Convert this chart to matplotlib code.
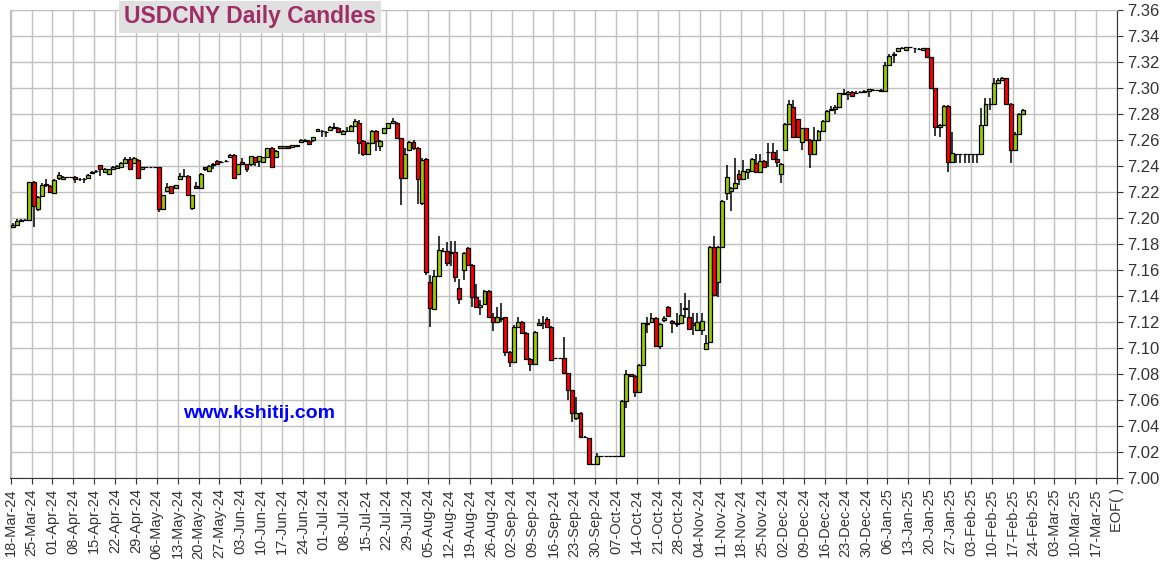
import matplotlib.pyplot as plt
import pandas as pd

plt.rcParams['font.family'] = ['Liberation Sans', 'DejaVu Sans']

# one entry per weekday from 18-Mar-24 (holidays show as flat prints)
opens = [
    7.1930, 7.1945, 7.1978, 7.1982, 7.1985, 7.2275, 7.2069, 7.2170, 7.2255, 7.2248,
    7.2195, 7.2305, 7.2298, 7.2312, 7.2312, 7.2318, 7.2298, 7.2300, 7.2305, 7.2350,
    7.2358, 7.2405, 7.2352, 7.2336, 7.2379, 7.2385, 7.2395, 7.2426, 7.2454, 7.2421,
    7.2446, 7.2374, 7.2390, 7.2390, 7.2390, 7.2390, 7.2067, 7.2210, 7.2246, 7.2233,
    7.2297, 7.2322, 7.2323, 7.2079, 7.2246, 7.2228, 7.2390, 7.2364, 7.2405, 7.2439,
    7.2428, 7.2435, 7.2467, 7.2485, 7.2341, 7.2431, 7.2413, 7.2413, 7.2467, 7.2441,
    7.2434, 7.2467, 7.2536, 7.2467, 7.2536, 7.2536, 7.2551, 7.2544, 7.2555, 7.2582,
    7.2596, 7.2595, 7.2598, 7.2670, 7.2672, 7.2665, 7.2674, 7.2703, 7.2692, 7.2644,
    7.2670, 7.2672, 7.2711, 7.2734, 7.2595, 7.2493, 7.2580, 7.2672, 7.2557, 7.2652,
    7.2690, 7.2729, 7.2734, 7.2613, 7.2305, 7.2524, 7.2588, 7.2540, 7.2112, 7.2450,
    7.1505, 7.1297, 7.1556, 7.1746, 7.1746, 7.1733, 7.1735, 7.1459, 7.1600, 7.1766,
    7.1638, 7.1389, 7.1312, 7.1335, 7.1438, 7.1235, 7.1202, 7.1230, 7.1235, 7.0972,
    7.0895, 7.1164, 7.1202, 7.1113, 7.0913, 7.0877, 7.1174, 7.1193, 7.1220, 7.1164,
    7.0925, 7.0925, 7.0925, 7.0805, 7.0677, 7.0459, 7.0503, 7.0318, 7.0305, 7.0105,
    7.0105, 7.0172, 7.0172, 7.0172, 7.0172, 7.0172, 7.0172, 7.0592, 7.0797, 7.0785,
    7.0659, 7.0869, 7.1188, 7.1203, 7.1228, 7.1015, 7.1215, 7.1313, 7.1210, 7.1188,
    7.1190, 7.1303, 7.1241, 7.1190, 7.1138, 7.1138, 7.0990, 7.1049, 7.1779, 7.1510,
    7.1779, 7.2190, 7.2210, 7.2233, 7.2338, 7.2297, 7.2356, 7.2364, 7.2421, 7.2356,
    7.2441, 7.2508, 7.2510, 7.2451, 7.2336, 7.2523, 7.2720, 7.2856, 7.2759, 7.2587,
    7.2689, 7.2600, 7.2489, 7.2600, 7.2671, 7.2746, 7.2830, 7.2838, 7.2851, 7.2957,
    7.2953, 7.2971, 7.2962, 7.2967, 7.2969, 7.2974, 7.2984, 7.2985, 7.2982, 7.2979,
    7.3180, 7.3257, 7.3284, 7.3308, 7.3292, 7.3312, 7.3306, 7.3303, 7.3292, 7.3305,
    7.3236, 7.2997, 7.2702, 7.2715, 7.2864, 7.2428, 7.2492, 7.2492, 7.2492, 7.2492,
    7.2492, 7.2492, 7.2492, 7.2715, 7.2875, 7.2877, 7.3036, 7.3061, 7.3075, 7.2880,
    7.2525, 7.2650, 7.2800,
]
highs = [
    7.1965, 7.1990, 7.1990, 7.1990, 7.2280, 7.2285, 7.2170, 7.2268, 7.2298, 7.2252,
    7.2300, 7.2356, 7.2320, 7.2312, 7.2312, 7.2322, 7.2305, 7.2310, 7.2335, 7.2360,
    7.2370, 7.2408, 7.2385, 7.2380, 7.2400, 7.2405, 7.2430, 7.2467, 7.2467, 7.2470,
    7.2455, 7.2395, 7.2390, 7.2390, 7.2390, 7.2392, 7.2180, 7.2272, 7.2250, 7.2255,
    7.2349, 7.2374, 7.2330, 7.2180, 7.2279, 7.2345, 7.2395, 7.2405, 7.2420, 7.2445,
    7.2435, 7.2445, 7.2490, 7.2490, 7.2418, 7.2459, 7.2418, 7.2480, 7.2470, 7.2480,
    7.2470, 7.2540, 7.2545, 7.2520, 7.2555, 7.2555, 7.2555, 7.2562, 7.2565, 7.2605,
    7.2610, 7.2600, 7.2625, 7.2686, 7.2678, 7.2670, 7.2708, 7.2728, 7.2697, 7.2676,
    7.2700, 7.2715, 7.2760, 7.2754, 7.2600, 7.2585, 7.2677, 7.2680, 7.2598, 7.2695,
    7.2734, 7.2767, 7.2740, 7.2618, 7.2536, 7.2595, 7.2600, 7.2550, 7.2460, 7.2460,
    7.1561, 7.1600, 7.1861, 7.1770, 7.1818, 7.1823, 7.1823, 7.1528, 7.1735, 7.1779,
    7.1645, 7.1492, 7.1369, 7.1445, 7.1445, 7.1271, 7.1318, 7.1343, 7.1240, 7.0980,
    7.1180, 7.1240, 7.1210, 7.1120, 7.0920, 7.1130, 7.1220, 7.1246, 7.1240, 7.1170,
    7.0925, 7.0925, 7.1087, 7.0810, 7.0680, 7.0625, 7.0510, 7.0322, 7.0310, 7.0110,
    7.0190, 7.0172, 7.0172, 7.0172, 7.0172, 7.0172, 7.0600, 7.0831, 7.0800, 7.0790,
    7.0875, 7.1195, 7.1241, 7.1267, 7.1235, 7.1190, 7.1246, 7.1320, 7.1215, 7.1267,
    7.1344, 7.1421, 7.1369, 7.1267, 7.1267, 7.1267, 7.1100, 7.1785, 7.1862, 7.1785,
    7.2135, 7.2408, 7.2240, 7.2459, 7.2369, 7.2446, 7.2380, 7.2459, 7.2490, 7.2492,
    7.2445, 7.2580, 7.2580, 7.2523, 7.2420, 7.2730, 7.2910, 7.2907, 7.2765, 7.2695,
    7.2695, 7.2605, 7.2702, 7.2677, 7.2752, 7.2830, 7.2861, 7.2869, 7.2965, 7.2990,
    7.2980, 7.2980, 7.2975, 7.2980, 7.2985, 7.2995, 7.2990, 7.2985, 7.2990, 7.3200,
    7.3260, 7.3279, 7.3310, 7.3315, 7.3318, 7.3318, 7.3310, 7.3308, 7.3310, 7.3310,
    7.3240, 7.3000, 7.2720, 7.2870, 7.2870, 7.2664, 7.2495, 7.2495, 7.2495, 7.2495,
    7.2495, 7.2495, 7.2843, 7.2920, 7.2920, 7.3074, 7.3079, 7.3085, 7.3080, 7.2885,
    7.2660, 7.2805, 7.2840,
]
lows = [
    7.1920, 7.1940, 7.1970, 7.1975, 7.1980, 7.1933, 7.2056, 7.2165, 7.2241, 7.2190,
    7.2190, 7.2295, 7.2290, 7.2312, 7.2312, 7.2272, 7.2285, 7.2270, 7.2300, 7.2345,
    7.2350, 7.2325, 7.2345, 7.2330, 7.2375, 7.2380, 7.2390, 7.2420, 7.2375, 7.2415,
    7.2305, 7.2370, 7.2390, 7.2390, 7.2390, 7.2049, 7.2060, 7.2205, 7.2185, 7.2230,
    7.2295, 7.2315, 7.2170, 7.2065, 7.2222, 7.2225, 7.2365, 7.2355, 7.2380, 7.2410,
    7.2425, 7.2430, 7.2462, 7.2305, 7.2335, 7.2405, 7.2357, 7.2400, 7.2400, 7.2395,
    7.2430, 7.2460, 7.2390, 7.2460, 7.2530, 7.2530, 7.2532, 7.2540, 7.2550, 7.2578,
    7.2590, 7.2560, 7.2585, 7.2665, 7.2621, 7.2621, 7.2670, 7.2688, 7.2655, 7.2640,
    7.2665, 7.2668, 7.2705, 7.2493, 7.2477, 7.2488, 7.2575, 7.2518, 7.2518, 7.2648,
    7.2685, 7.2725, 7.2608, 7.2100, 7.2300, 7.2520, 7.2520, 7.2110, 7.2100, 7.1560,
    7.1159, 7.1290, 7.1550, 7.1740, 7.1633, 7.1633, 7.1510, 7.1338, 7.1523, 7.1630,
    7.1318, 7.1312, 7.1254, 7.1330, 7.1230, 7.1133, 7.1198, 7.1198, 7.0935, 7.0851,
    7.0890, 7.1160, 7.1105, 7.0905, 7.0820, 7.0870, 7.1170, 7.1150, 7.1160, 7.0900,
    7.0925, 7.0925, 7.0800, 7.0600, 7.0430, 7.0450, 7.0305, 7.0305, 7.0100, 7.0100,
    7.0100, 7.0172, 7.0172, 7.0172, 7.0172, 7.0172, 7.0165, 7.0536, 7.0780, 7.0626,
    7.0655, 7.0865, 7.1118, 7.1200, 7.1010, 7.0990, 7.1197, 7.1240, 7.1113, 7.1164,
    7.1185, 7.1228, 7.1138, 7.1100, 7.1130, 7.1100, 7.0985, 7.1040, 7.1400, 7.1395,
    7.1770, 7.2138, 7.2056, 7.2230, 7.2254, 7.2290, 7.2300, 7.2360, 7.2350, 7.2350,
    7.2385, 7.2395, 7.2445, 7.2390, 7.2267, 7.2515, 7.2715, 7.2620, 7.2620, 7.2523,
    7.2595, 7.2382, 7.2485, 7.2595, 7.2665, 7.2740, 7.2825, 7.2797, 7.2845, 7.2950,
    7.2907, 7.2930, 7.2955, 7.2960, 7.2965, 7.2933, 7.2980, 7.2985, 7.2975, 7.2975,
    7.3170, 7.3190, 7.3280, 7.3300, 7.3290, 7.3305, 7.3267, 7.3295, 7.3288, 7.3230,
    7.2992, 7.2631, 7.2626, 7.2710, 7.2356, 7.2420, 7.2420, 7.2420, 7.2420, 7.2420,
    7.2420, 7.2420, 7.2488, 7.2710, 7.2831, 7.2870, 7.3030, 7.3055, 7.2870, 7.2420,
    7.2515, 7.2645, 7.2795,
]
closes = [
    7.1950, 7.1975, 7.1982, 7.1985, 7.2275, 7.2092, 7.2165, 7.2255, 7.2258, 7.2198,
    7.2290, 7.2328, 7.2313, 7.2312, 7.2312, 7.2298, 7.2300, 7.2298, 7.2328, 7.2355,
    7.2365, 7.2377, 7.2375, 7.2374, 7.2395, 7.2400, 7.2426, 7.2454, 7.2379, 7.2459,
    7.2310, 7.2390, 7.2390, 7.2390, 7.2390, 7.2067, 7.2177, 7.2236, 7.2190, 7.2251,
    7.2323, 7.2323, 7.2177, 7.2177, 7.2228, 7.2338, 7.2374, 7.2400, 7.2416, 7.2416,
    7.2431, 7.2440, 7.2485, 7.2311, 7.2413, 7.2413, 7.2380, 7.2477, 7.2434, 7.2477,
    7.2467, 7.2536, 7.2395, 7.2516, 7.2551, 7.2551, 7.2536, 7.2559, 7.2560, 7.2598,
    7.2598, 7.2572, 7.2621, 7.2682, 7.2670, 7.2662, 7.2703, 7.2692, 7.2662, 7.2672,
    7.2672, 7.2711, 7.2749, 7.2575, 7.2493, 7.2580, 7.2672, 7.2595, 7.2593, 7.2690,
    7.2729, 7.2744, 7.2613, 7.2305, 7.2493, 7.2588, 7.2540, 7.2300, 7.2450, 7.1587,
    7.1305, 7.1556, 7.1753, 7.1750, 7.1651, 7.1735, 7.1543, 7.1374, 7.1728, 7.1638,
    7.1389, 7.1312, 7.1330, 7.1438, 7.1235, 7.1202, 7.1235, 7.1220, 7.0972, 7.0895,
    7.1164, 7.1202, 7.1113, 7.0913, 7.0877, 7.1125, 7.1195, 7.1195, 7.1164, 7.0907,
    7.0925, 7.0925, 7.0805, 7.0677, 7.0497, 7.0503, 7.0313, 7.0313, 7.0105, 7.0105,
    7.0172, 7.0172, 7.0172, 7.0172, 7.0172, 7.0172, 7.0592, 7.0797, 7.0785, 7.0659,
    7.0869, 7.1190, 7.1190, 7.1228, 7.1015, 7.1182, 7.1228, 7.1246, 7.1190, 7.1190,
    7.1254, 7.1305, 7.1144, 7.1177, 7.1203, 7.1210, 7.1041, 7.1779, 7.1408, 7.1779,
    7.2131, 7.2313, 7.2233, 7.2267, 7.2297, 7.2362, 7.2374, 7.2451, 7.2356, 7.2441,
    7.2390, 7.2510, 7.2451, 7.2431, 7.2413, 7.2720, 7.2880, 7.2625, 7.2625, 7.2689,
    7.2600, 7.2489, 7.2600, 7.2671, 7.2746, 7.2825, 7.2838, 7.2851, 7.2959, 7.2959,
    7.2971, 7.2938, 7.2964, 7.2969, 7.2979, 7.2989, 7.2985, 7.2985, 7.2979, 7.3180,
    7.3250, 7.3259, 7.3305, 7.3310, 7.3313, 7.3313, 7.3305, 7.3302, 7.3305, 7.3236,
    7.2997, 7.2702, 7.2715, 7.2864, 7.2428, 7.2497, 7.2492, 7.2492, 7.2492, 7.2492,
    7.2492, 7.2492, 7.2715, 7.2877, 7.2877, 7.3036, 7.3061, 7.3075, 7.2880, 7.2525,
    7.2650, 7.2800, 7.2830,
]

week_labels = [d.strftime('%d-%b-%y') for d in pd.date_range('2024-03-18', periods=53, freq='7D')]
week_labels.append('EOF( )')
y_ticks = [7.00, 7.02, 7.04, 7.06, 7.08, 7.10, 7.12, 7.14, 7.16, 7.18,
           7.20, 7.22, 7.24, 7.26, 7.28, 7.30, 7.32, 7.34, 7.36]

W, H = 1170, 571
fig = plt.figure(figsize=(W / 100, H / 100), dpi=100)
ax = fig.add_axes([10 / W, 1 - 478 / H, (1117 - 10) / W, (478 - 10) / H])

x = [i + 0.5 for i in range(len(opens))]
bottoms = [min(o, c) for o, c in zip(opens, closes)]
heights = [abs(c - o) for o, c in zip(opens, closes)]
colors = ['#9acd00' if c > o else '#ff0000' if c < o else 'black' for o, c in zip(opens, closes)]

ax.vlines(x, lows, highs, color='black', lw=1.1, zorder=2)
ax.bar(x, heights, bottom=bottoms, width=0.95, color=colors, edgecolor='black', lw=0.9, zorder=3)

ax.set_xlim(-0.15, 265)
ax.set_ylim(7.00, 7.36)
ax.set_xticks(range(0, 266, 5))
ax.set_xticklabels(week_labels, rotation=90, fontsize=10.5, color='#333333')
ax.set_yticks(y_ticks)
ax.set_yticklabels(['%.2f' % v for v in y_ticks], fontsize=12, color='#333333')
ax.yaxis.tick_right()
ax.tick_params(axis='both', length=4, width=0.8, color='#333333')
ax.grid(True, color='#c0c0c0', lw=1, zorder=0)
ax.set_axisbelow(True)
for s in ['top', 'left']:
    ax.spines[s].set_color('#c0c0c0')
for s in ['bottom', 'right']:
    ax.spines[s].set_color('#333333')

fig.text(250 / W, 1 - 17 / H, 'USDCNY Daily Candles', ha='center', va='center',
         fontsize=16.5, fontweight='bold', color='#9e2f66',
         bbox=dict(facecolor='#e0e0e0', edgecolor='none', boxstyle='square,pad=0.2'))
fig.text(259 / W, 1 - 414 / H, 'www.kshitij.com', ha='center', va='center',
         fontsize=14, fontweight='bold', color='#0000ff')

fig.savefig('out.png', dpi=100)
